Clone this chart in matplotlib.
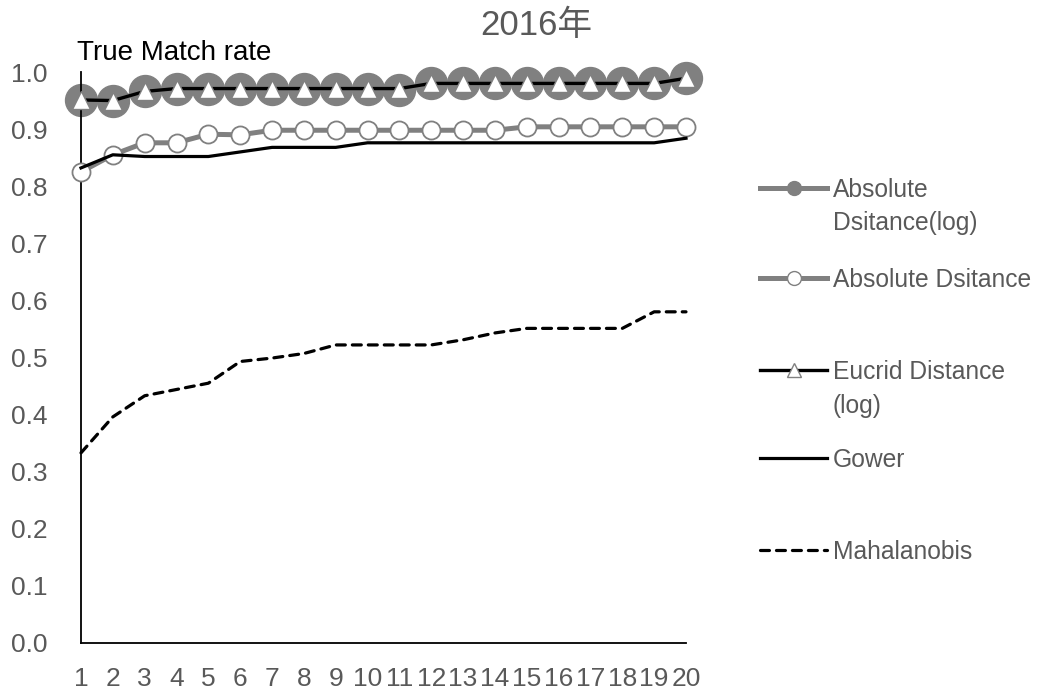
import matplotlib
matplotlib.use("Agg")
import matplotlib.pyplot as plt
from matplotlib.lines import Line2D

# ---- data -------------------------------------------------------------
k_values = list(range(1, 21))
x_tick_labels = [str(k) for k in k_values]
y_ticks = [0.0, 0.1, 0.2, 0.3, 0.4, 0.5, 0.6, 0.7, 0.8, 0.9, 1.0]

abs_dist_log = [0.951, 0.950, 0.966, 0.971, 0.971, 0.971, 0.971, 0.971, 0.971, 0.971,
                0.968, 0.980, 0.980, 0.980, 0.980, 0.980, 0.980, 0.980, 0.980, 0.989]
abs_dist = [0.825, 0.855, 0.876, 0.876, 0.891, 0.890, 0.898, 0.898, 0.898, 0.898,
            0.898, 0.898, 0.898, 0.898, 0.904, 0.904, 0.904, 0.904, 0.904, 0.904]
eucrid_log = [0.951, 0.950, 0.966, 0.971, 0.971, 0.971, 0.971, 0.971, 0.971, 0.971,
              0.971, 0.980, 0.980, 0.980, 0.980, 0.980, 0.980, 0.980, 0.980, 0.989]
gower = [0.832, 0.855, 0.852, 0.852, 0.852, 0.860, 0.868, 0.868, 0.868, 0.876,
         0.876, 0.876, 0.876, 0.876, 0.876, 0.876, 0.876, 0.876, 0.876, 0.884]
mahalanobis = [0.333, 0.396, 0.433, 0.444, 0.455, 0.493, 0.499, 0.507, 0.522, 0.522,
               0.522, 0.522, 0.531, 0.543, 0.551, 0.551, 0.551, 0.551, 0.580, 0.580]

labels = ["Absolute\nDsitance(log)", "Absolute Dsitance", "Eucrid Distance\n(log)",
          "Gower", "Mahalanobis"]
title_text = "2016年"
ylabel_text = "True Match rate"

# ---- styling ----------------------------------------------------------
GREY = "#808080"
TEXT = "#595959"
FONTS = ["Liberation Sans", "Noto Sans CJK JP", "DejaVu Sans"]
plt.rcParams["font.family"] = FONTS

W, H = 1041, 695
fig = plt.figure(figsize=(W / 100, H / 100), dpi=100)
ax = fig.add_axes([81 / W, 1 - 643 / H, (686 - 81) / W, (643 - 72) / H])

styles = [
    dict(color=GREY, lw=3.6, marker="o", ms=23, mfc=GREY, mec=GREY, mew=1.0, zorder=2),
    dict(color=GREY, lw=3.6, marker="o", ms=13, mfc="white", mec=GREY, mew=1.3, zorder=4),
    dict(color="black", lw=2.4, marker="^", ms=13, mfc="white", mec=GREY, mew=1.0, zorder=3),
    dict(color="black", lw=2.3, zorder=5),
    dict(color="black", lw=2.3, linestyle=(0, (2.8, 2.2)), dash_capstyle="round", zorder=6),
]
series = [abs_dist_log, abs_dist, eucrid_log, gower, mahalanobis]

for vals, st in zip(series, styles):
    ax.plot(k_values, vals, clip_on=False, **st)

ax.set_xlim(1, 20)
ax.set_ylim(0, 1.0)
ax.set_xticks(k_values)
ax.set_xticklabels(x_tick_labels)
ax.set_yticks(y_ticks)
ax.set_yticklabels([f"{v:.1f}" for v in y_ticks])
ax.tick_params(axis="both", length=0, labelsize=19, labelcolor=TEXT)
ax.tick_params(axis="y", pad=24)
ax.tick_params(axis="x", pad=17)
for side in ("top", "right"):
    ax.spines[side].set_visible(False)
for side in ("left", "bottom"):
    ax.spines[side].set_color("black")
    ax.spines[side].set_linewidth(1.3)

fig.text(536 / W, 1 - 25 / H, title_text, ha="center", va="center",
         fontsize=25, color=TEXT)
fig.text(77 / W, 1 - 53 / H, ylabel_text, ha="left", va="center",
         fontsize=20, color="black")

# ---- legend (drawn by hand so that the key sits on the first text line) ----
legend_y = [188, 278, 370, 458, 550]
legend_marker_size = [10, 10, 10, None, None]
for lab, st, ypx, msz in zip(labels, styles, legend_y, legend_marker_size):
    yf = 1 - ypx / H
    kw = dict(color=st["color"], lw=st["lw"], transform=fig.transFigure)
    if "linestyle" in st:
        kw["linestyle"] = st["linestyle"]
        kw["dash_capstyle"] = st["dash_capstyle"]
    fig.add_artist(Line2D([760 / W, 827 / W], [yf, yf], **kw))
    if msz:
        fig.add_artist(Line2D([793.5 / W], [yf], marker=st["marker"], ms=msz,
                              mfc=st["mfc"], mec=st["mec"], mew=1.0, lw=0,
                              transform=fig.transFigure))
    fig.text(833 / W, 1 - (ypx - 10) / H, lab, ha="left", va="top",
             fontsize=17.7, color=TEXT, linespacing=1.5)

fig.savefig("out.png", dpi=100)
